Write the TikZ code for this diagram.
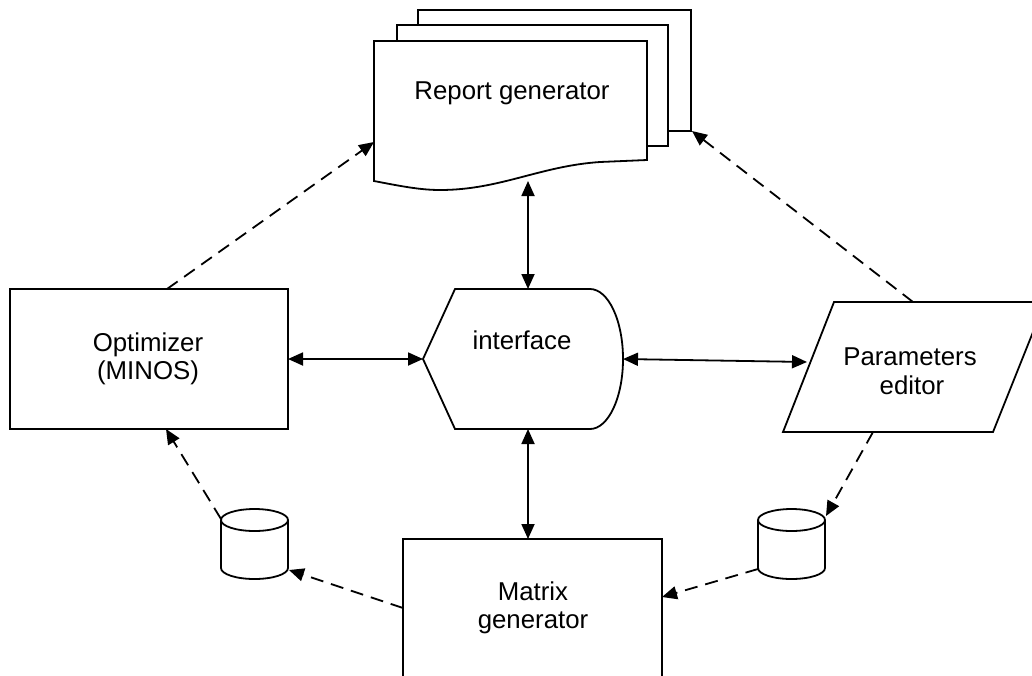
\documentclass[tikz,border=0pt]{standalone}
\usepackage{fontspec}
\setmainfont{Liberation Sans}
\usetikzlibrary{arrows.meta}
\begin{document}
\begin{tikzpicture}[x=1pt,y=-1pt,
  shp/.style={draw=black, line width=1.8pt, fill=white, line join=miter},
  lbl/.style={font=\fontsize{25.8pt}{30pt}\selectfont, inner sep=0pt, anchor=base},
  biarrow/.style={line width=1.8pt, {Triangle[length=15pt,width=13pt]}-{Triangle[length=15pt,width=13pt]}},
  dasharrow/.style={line width=1.8pt, dash pattern=on 13pt off 8pt, -{Triangle[length=15pt,width=13pt]}}]
\useasboundingbox (0,0) rectangle (1032,675);
\clip (0,0) rectangle (1032,675);
\fill[white] (0,0) rectangle (1032,675);

% Report generator (stack of documents)
\path[shp] (418,10) rectangle (691,131);
\path[shp] (397,25) rectangle (668,146);
\path[shp] (374,41) -- (647,41) -- (647,160) -- (600,162)
  .. controls (540,166) and (500,190) .. (440,190)
  .. controls (420,190) and (400,186) .. (374,181) -- cycle;
\node[lbl] (rep) at (512,99) {Report generator};

% Optimizer
\path[shp] (10,289) rectangle (288,429);
\node[lbl] (opt1) at (148,351) {Optimizer};
\node[lbl] (opt2) at (148,379) {(MINOS)};

% interface (display shape)
\path[shp] (455,289) -- (590,289)
  .. controls (608.2,289) and (623,320.3) .. (623,359)
  .. controls (623,397.7) and (608.2,429) .. (590,429)
  -- (455,429) -- (423,359) -- cycle;
\node[lbl] (ifc) at (522,349) {interface};

% Parameters editor
\path[shp] (783,432) -- (834,302) -- (1045,302) -- (993,432) -- cycle;
\node[lbl] (par1) at (910,365) {Parameters};
\node[lbl] (par2) at (912,394) {editor};

% Matrix generator
\path[shp] (403,539) -- (662,539) -- (662,700) -- (403,700) -- cycle;
\node[lbl] (mat1) at (533,600) {Matrix};
\node[lbl] (mat2) at (533,628) {generator};

% Cylinders
\path[shp] (221,520) -- (221,568)
  .. controls (221,574.1) and (236,579) .. (254.5,579)
  .. controls (273,579) and (288,574.1) .. (288,568) -- (288,520);
\draw[line width=1.8pt] (254.5,520) ellipse [x radius=33.5pt, y radius=11pt];
\path[shp] (758,520) -- (758,568)
  .. controls (758,574.1) and (773,579) .. (791.5,579)
  .. controls (810,579) and (825,574.1) .. (825,568) -- (825,520);
\draw[line width=1.8pt] (791.5,520) ellipse [x radius=33.5pt, y radius=11pt];

% connection points
\coordinate (optE) at (288,359);
\coordinate (optN) at (167,289);
\coordinate (optS) at (166,429);
\coordinate (ifW) at (423,359);
\coordinate (ifE) at (623,359);
\coordinate (ifN) at (528,289);
\coordinate (ifS) at (528,429);
\coordinate (repS) at (528,181);
\coordinate (repW) at (374,142);
\coordinate (repE) at (692,131);
\coordinate (parW) at (807,362);
\coordinate (parN) at (913,302);
\coordinate (parS) at (873,432);
\coordinate (matN) at (528,539);
\coordinate (matE) at (662,597);
\coordinate (matW) at (403,608);
\coordinate (cylLtop) at (221,519);
\coordinate (cylLbot) at (289,570);
\coordinate (cylRtop) at (826,516);
\coordinate (cylRbot) at (758,569);

% solid connectors
\draw[biarrow] (optE) -- (ifW);
\draw[biarrow] (ifE) -- (parW);
\draw[biarrow] (repS) -- (ifN);
\draw[biarrow] (ifS) -- (matN);

% dashed connectors
\draw[dasharrow] (optN) -- (repW);
\draw[dasharrow] (parN) -- (repE);
\draw[dasharrow] (parS) -- (cylRtop);
\draw[dasharrow] (cylRbot) -- (matE);
\draw[dasharrow] (matW) -- (cylLbot);
\draw[dasharrow] (cylLtop) -- (optS);
\end{tikzpicture}
\end{document}
